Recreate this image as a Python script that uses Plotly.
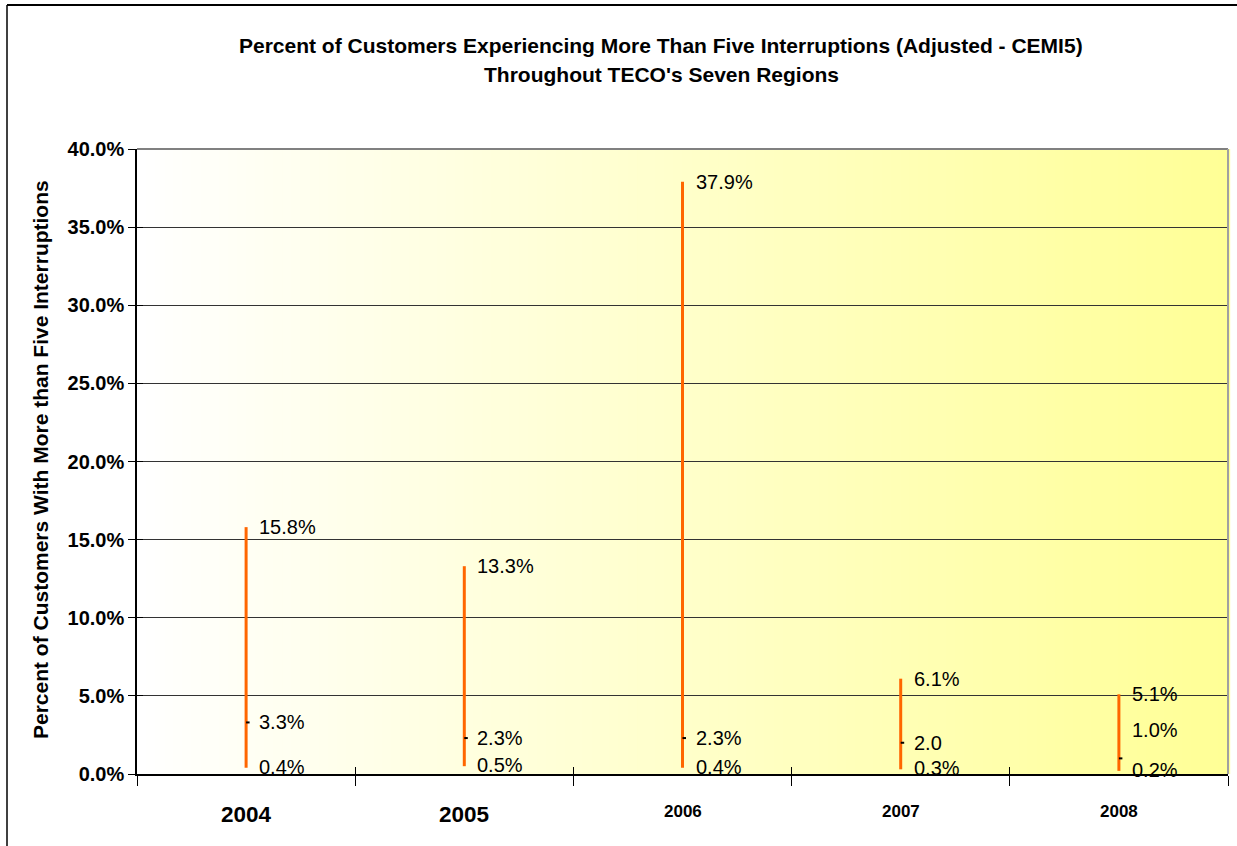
import plotly.graph_objects as go

# --- data -------------------------------------------------------------
years = ["2004", "2005", "2006", "2007", "2008"]
high = [15.8, 13.3, 37.9, 6.1, 5.1]
mid = [3.3, 2.3, 2.3, 2.0, 1.0]
low = [0.4, 0.5, 0.4, 0.3, 0.2]
high_labels = ["15.8%", "13.3%", "37.9%", "6.1%", "5.1%"]
mid_labels = ["3.3%", "2.3%", "2.3%", "2.0", "1.0%"]
low_labels = ["0.4%", "0.5%", "0.4%", "0.3%", "0.2%"]
y_ticks = [0, 5, 10, 15, 20, 25, 30, 35, 40]

# --- geometry ---------------------------------------------------------
W, H = 1237, 846
L, R, T, B = 137, 1228, 149, 774          # plot area in pixels
PW, PH = R - L, B - T
FONT = "Liberation Sans, Arial, sans-serif"
ORANGE = "#FF6600"


def px_x(p):
    return (p - L) / PW


def px_y(p):
    return (B - p) / PH


xs = list(range(len(years)))
x_range = [-0.5, len(years) - 0.5]
bounds = [i - 0.5 for i in range(len(years) + 1)]
TICK_LEN = 0.016   # close tick length, in category units

fig = go.Figure()

# high-low lines
lx, ly = [], []
for i, (h, l) in enumerate(zip(high, low)):
    lx += [i, i, None]
    ly += [l / 100, h / 100, None]
fig.add_trace(go.Scatter(x=lx, y=ly, mode="lines",
                         line=dict(color=ORANGE, width=3),
                         hoverinfo="skip", showlegend=False))

# close ticks on the right of each line
tx, ty = [], []
for i, m in enumerate(mid):
    tx += [i, i + TICK_LEN, None]
    ty += [m / 100, m / 100, None]
fig.add_trace(go.Scatter(x=tx, y=ty, mode="lines",
                         line=dict(color="black", width=2),
                         hoverinfo="skip", showlegend=False))

# invisible trace on overlay axes to draw crossing ticks
fig.add_trace(go.Scatter(x=[xs[0]], y=[0], xaxis="x2", yaxis="y2",
                         mode="markers", marker=dict(opacity=0),
                         hoverinfo="skip", showlegend=False))

annotations = []
label_font = dict(family=FONT, size=20, color="black")
for i in xs:
    annotations.append(dict(x=i, y=high[i] / 100, text=high_labels[i],
                            xref="x", yref="y", xanchor="left", yanchor="middle",
                            xshift=11, showarrow=False, font=label_font))
    annotations.append(dict(x=i, y=mid[i] / 100, text=mid_labels[i],
                            xref="x", yref="y", xanchor="left", yanchor="middle",
                            xshift=11, yshift=28 if i == 4 else 0,
                            showarrow=False, font=label_font))
    annotations.append(dict(x=i, y=low[i] / 100, text=low_labels[i],
                            xref="x", yref="y", xanchor="left", yanchor="middle",
                            xshift=11, yshift=1, showarrow=False, font=label_font))

# category labels below the axis
for i, yr in enumerate(years):
    big = i < 2
    annotations.append(dict(x=i, y=px_y(814 if big else 811), text=f"<b>{yr}</b>",
                            xref="x", yref="paper", xanchor="center", yanchor="middle",
                            showarrow=False,
                            font=dict(family=FONT, size=22.5 if big else 17, color="black")))

# titles
title_font = dict(family=FONT, size=21, color="black")
annotations.append(dict(x=px_x(661), y=px_y(46), xref="paper", yref="paper",
                        text="<b>Percent of Customers Experiencing More Than Five Interruptions (Adjusted - CEMI5)</b>",
                        showarrow=False, xanchor="center", yanchor="middle", font=title_font))
annotations.append(dict(x=px_x(661), y=px_y(75), xref="paper", yref="paper",
                        text="<b>Throughout TECO's Seven Regions</b>",
                        showarrow=False, xanchor="center", yanchor="middle", font=title_font))
annotations.append(dict(x=px_x(40), y=px_y(460), xref="paper", yref="paper",
                        text="<b>Percent of Customers With More than Five Interruptions</b>",
                        textangle=-90, showarrow=False, xanchor="center", yanchor="middle",
                        font=dict(family=FONT, size=21, color="black")))

# horizontal white-to-yellow gradient behind the plot area
shapes = []
N = 120
for k in range(N):
    t = (k + 0.5) / N
    g = round(255 - (255 - 150) * t)
    shapes.append(dict(type="rect", xref="x domain", yref="y domain",
                       x0=k / N, x1=(k + 1) / N + 0.002, y0=0, y1=1,
                       fillcolor=f"rgb(255,255,{g})", line=dict(width=0), layer="below"))
# plot area frame (top and right edges)
shapes.append(dict(type="line", xref="x domain", yref="y domain", x0=0, x1=1, y0=1, y1=1,
                   line=dict(color="#808080", width=2)))
shapes.append(dict(type="line", xref="x domain", yref="y domain", x0=1, x1=1, y0=0, y1=1,
                   line=dict(color="#A0A0A0", width=2)))
# chart area border (left and top)
shapes.append(dict(type="line", xref="paper", yref="paper",
                   x0=px_x(7), x1=px_x(7), y0=px_y(5), y1=px_y(H + 10),
                   line=dict(color="black", width=1.5)))
shapes.append(dict(type="line", xref="paper", yref="paper",
                   x0=px_x(7), x1=px_x(W + 10), y0=px_y(5), y1=px_y(5),
                   line=dict(color="black", width=2)))

tick_font = dict(family=FONT, size=20, color="black")
fig.update_layout(
    width=W, height=H,
    margin=dict(l=L, r=W - R, t=T, b=H - B),
    paper_bgcolor="white", plot_bgcolor="rgba(0,0,0,0)",
    showlegend=False,
    xaxis=dict(range=x_range, tickmode="array", tickvals=bounds, ticktext=[""] * len(bounds),
               ticks="outside", ticklen=10, tickcolor="black", tickwidth=1,
               showgrid=False, zeroline=False, showline=True, linecolor="black", linewidth=1.5),
    yaxis=dict(range=[0, 0.40], tickmode="array", tickvals=[v / 100 for v in y_ticks],
               ticktext=[f"<b>{v:.1f}%</b>" for v in y_ticks],
               ticks="outside", ticklen=7, tickcolor="black", tickwidth=1,
               tickfont=tick_font, showgrid=True, gridcolor="#333333", gridwidth=1,
               zeroline=False, showline=True, linecolor="black", linewidth=1.5),
    xaxis2=dict(overlaying="x", range=x_range, tickmode="array", tickvals=bounds,
                ticktext=[""] * len(bounds), ticks="inside", ticklen=7, tickcolor="black",
                showgrid=False, zeroline=False, showline=False, side="bottom", anchor="y2"),
    yaxis2=dict(overlaying="y", range=[0, 0.40], tickmode="array",
                tickvals=[v / 100 for v in y_ticks], ticktext=[""] * len(y_ticks),
                ticks="inside", ticklen=6, tickcolor="black", showgrid=False,
                zeroline=False, showline=False, side="left", anchor="x2"),
    annotations=annotations,
    shapes=shapes,
)

fig.write_html("out.html")
